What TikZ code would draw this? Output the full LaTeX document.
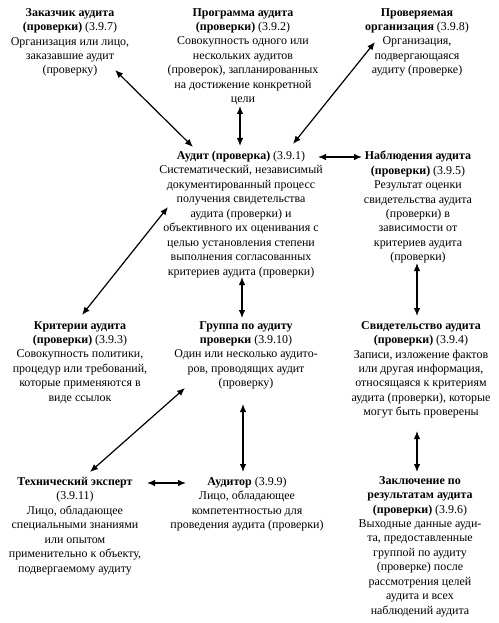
\documentclass[tikz,border=0pt]{standalone}
\usepackage{fontspec}
\setmainfont{Liberation Serif}
\usetikzlibrary{arrows.meta}
\begin{document}
\begin{tikzpicture}[x=1bp,y=-1bp,
  blk/.style={anchor=north, align=center, inner sep=0pt, font=\fontsize{12}{14.5}\selectfont},
  arr/.style={{Latex[length=8bp,width=6.5bp]}-{Latex[length=8bp,width=6.5bp]}, line width=1.2bp}]
\useasboundingbox[fill=white] (0,0) rectangle (499,623);
\node[blk] (zak) at (70,8) {\textbf{Заказчик аудита}\\\textbf{(проверки)} (3.9.7)\\Организация или лицо,\\заказавшие аудит\\(проверку)};
\node[blk] (prog) at (243,8) {\textbf{Программа аудита}\\\textbf{(проверки)} (3.9.2)\\Совокупность одного или\\нескольких аудитов\\(проверок), запланированных\\на достижение конкретной\\цели};
\node[blk] (prov) at (417,8) {\textbf{Проверяемая}\\\textbf{организация} (3.9.8)\\Организация,\\подвергающаяся\\аудиту (проверке)};
\node[blk] (aud) at (241,151) {\textbf{Аудит (проверка)} (3.9.1)\\Систематический, независимый\\документированный процесс\\получения свидетельства\\аудита (проверки) и\\объективного их оценивания с\\целью установления степени\\выполнения согласованных\\критериев аудита (проверки)};
\node[blk] (nabl) at (418,151) {\textbf{Наблюдения аудита}\\\textbf{(проверки)} (3.9.5)\\Результат оценки\\свидетельства аудита\\(проверки) в\\зависимости от\\критериев аудита\\(проверки)};
\node[blk] (krit) at (80,321) {\textbf{Критерии аудита}\\\textbf{(проверки)} (3.9.3)\\Совокупность политики,\\процедур или требований,\\которые применяются в\\виде ссылок};
\node[blk] (grup) at (246,321) {\textbf{Группа по аудиту}\\\textbf{проверки} (3.9.10)\\Один или несколько аудито-\\ров, проводящих аудит\\(проверку)};
\node[blk] (svid) at (421,321) {\textbf{Свидетельство аудита}\\\textbf{(проверки)} (3.9.4)\\Записи, изложение фактов\\или другая информация,\\относящаяся к критериям\\аудита (проверки), которые\\могут быть проверены};
\node[blk] (tech) at (75,477) {\textbf{Технический эксперт}\\(3.9.11)\\Лицо, обладающее\\специальными знаниями\\или опытом\\применительно к объекту,\\подвергаемому аудиту};
\node[blk] (audr) at (247,477) {\textbf{Аудитор} (3.9.9)\\Лицо, обладающее\\компетентностью для\\проведения аудита (проверки)};
\node[blk] (zakl) at (420,476) {\textbf{Заключение по}\\\textbf{результатам аудита}\\\textbf{(проверки)} (3.9.6)\\Выходные данные ауди-\\та, предоставленные\\группой по аудиту\\(проверке) после\\рассмотрения целей\\аудита и всех\\наблюдений аудита};
\draw[arr] ([shift={(45,62)}]zak.north) -- ([shift={(-48,-4)}]aud.north);
\draw[arr] ([shift={(-3,98)}]prog.north) -- ([shift={(-1,-5)}]aud.north);
\draw[arr] ([shift={(-42,34)}]prov.north) -- ([shift={(52,-7)}]aud.north);
\draw[arr] ([shift={(77,6)}]aud.north) -- ([shift={(-56,6)}]nabl.north);
\draw[arr] ([shift={(2,-6)}]krit.north) -- ([shift={(-73,56)}]aud.north);
\draw[arr] ([shift={(1,126)}]aud.north) -- ([shift={(-4,-3)}]grup.north);
\draw[arr] ([shift={(-1,112)}]nabl.north) -- ([shift={(-4,-5)}]svid.north);
\draw[arr] ([shift={(-61,67)}]grup.north) -- ([shift={(15,-5)}]tech.north);
\draw[arr] ([shift={(-3,83)}]grup.north) -- ([shift={(-4,-5)}]audr.north);
\draw[arr] ([shift={(72,6)}]tech.north) -- ([shift={(-61,6)}]audr.north);
\draw[arr] ([shift={(-4,110)}]svid.north) -- ([shift={(-3,-4)}]zakl.north);
\end{tikzpicture}
\end{document}
